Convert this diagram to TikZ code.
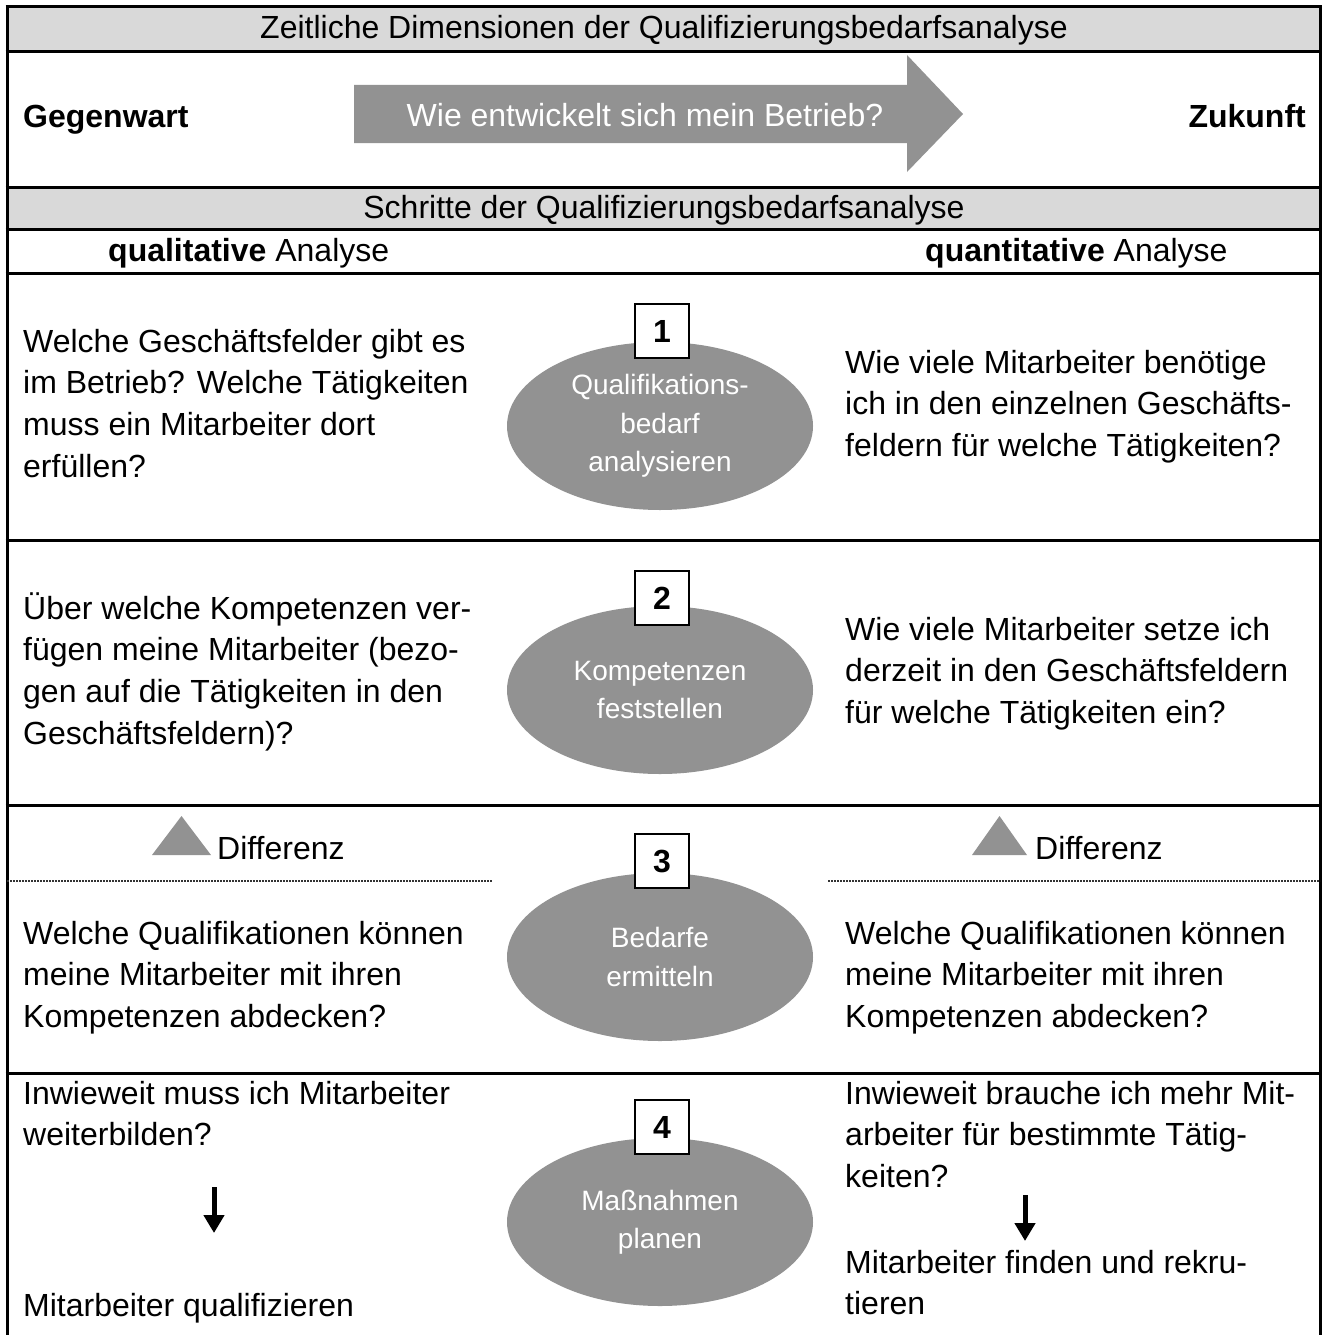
\documentclass[tikz,border=0pt]{standalone}
\usepackage{fontspec}
\setmainfont{Liberation Sans}
\usetikzlibrary{shapes.geometric,arrows.meta}
\definecolor{hdr}{HTML}{D9D9D9}
\definecolor{shp}{HTML}{929292}
\begin{document}
\begin{tikzpicture}[x=1pt,y=-1pt,
  body/.style={font=\fontsize{32}{41.7}\selectfont, inner sep=0pt, anchor=base west, align=left},
  ctr/.style={font=\fontsize{32}{41.7}\selectfont, inner sep=0pt, anchor=base},
  ell/.style={ellipse, fill=shp, minimum width=306pt, minimum height=168pt, inner sep=0pt,
    text=white, align=center, font=\fontsize{28}{38.5}\selectfont},
  numbox/.style={draw, line width=2pt, fill=white, minimum width=54pt, minimum height=54pt,
    inner sep=0pt, font=\fontsize{32}{36}\selectfont\bfseries},
  rule/.style={line width=3pt},
  dotline/.style={line width=1.5pt, dash pattern=on 2pt off 1pt, black!80},
  smallarrow/.style={line width=5pt, -{Triangle[width=20pt,length=18pt]}}]
\useasboundingbox (0,0) rectangle (1322,1335);
% header fills
\fill[hdr] (7,7) rectangle (1320,52);
\fill[hdr] (7,187) rectangle (1320,229);
% rules
\foreach \yy in {7,52,187,229,273,540,805,1073}
  \draw[rule] (5.5,\yy) -- (1321.5,\yy);
\draw[rule] (7,5.5) -- (7,1335);
\draw[rule] (1320,5.5) -- (1320,1335);
% header texts
\node[ctr] (h1) at (664,38.5) {Zeitliche Dimensionen der Qualifizierungsbedarfsanalyse};
\node[body, font=\fontsize{32}{41.7}\selectfont\bfseries] (gw) at (23,128) {Gegenwart};
\node[body, anchor=base east, font=\fontsize{32}{41.7}\selectfont\bfseries] (zk) at (1306,128) {Zukunft};
% big arrow
\fill[shp] (354,85) -- (907,85) -- (907,55) -- (963,114) -- (907,172) -- (907,143) -- (354,143) -- cycle;
\node[ctr, text=white] (arrtxt) at (645,127) {Wie entwickelt sich mein Betrieb?};
\node[ctr] (h2) at (664,218) {Schritte der Qualifizierungsbedarfsanalyse};
\node[body] (ql) at (108,261.5) {\textbf{qualitative} Analyse};
\node[body] (qn) at (925,261.5) {\textbf{quantitative} Analyse};
% row 1 (base anchor of multi-line nodes = last line)
\node[body] (l1) at (23,477.1) {Welche Geschäftsfelder gibt es\\im Betrieb? Welche Tätigkeiten\\muss ein Mitarbeiter dort\\erfüllen?};
\node[body] (r1) at (845,456.4) {Wie viele Mitarbeiter benötige\\ich in den einzelnen Geschäfts-\\feldern für welche Tätigkeiten?};
\node[ell] (e1) at (660,426) {Qualifikations-\\bedarf\\analysieren};
\node[numbox] (n1) at (662,331) {1};
% row 2
\node[body] (l2) at (23,744.1) {Über welche Kompetenzen ver-\\fügen meine Mitarbeiter (bezo-\\gen auf die Tätigkeiten in den\\Geschäftsfeldern)?};
\node[body] (r2) at (845,723.4) {Wie viele Mitarbeiter setze ich\\derzeit in den Geschäftsfeldern\\für welche Tätigkeiten ein?};
\node[ell] (e2) at (660,690) {Kompetenzen\\feststellen};
\node[numbox] (n2) at (662,598) {2};
% row 3
\fill[shp] (152,855) -- (211,855) -- (181.5,816) -- cycle;
\fill[shp] (972,855) -- (1027,855) -- (999.5,816) -- cycle;
\node[body] (d1) at (217,859) {Differenz};
\node[body] (d2) at (1035,859) {Differenz};
\draw[dotline] (7,881) -- (492,881);
\draw[dotline] (828,881) -- (1320,881);
\node[body] (l3) at (23,1027.4) {Welche Qualifikationen können\\meine Mitarbeiter mit ihren\\Kompetenzen abdecken?};
\node[body] (r3) at (845,1027.4) {Welche Qualifikationen können\\meine Mitarbeiter mit ihren\\Kompetenzen abdecken?};
\node[ell] (e3) at (660,957) {Bedarfe\\ermitteln};
\node[numbox] (n3) at (662,861) {3};
% row 4
\node[body] (l4) at (23,1145.7) {Inwieweit muss ich Mitarbeiter\\weiterbilden?};
\node[body] (l4b) at (23,1316) {Mitarbeiter qualifizieren};
\node[body] (r4) at (845,1187.4) {Inwieweit brauche ich mehr Mit-\\arbeiter für bestimmte Tätig-\\keiten?};
\node[body] (r4b) at (845,1314.7) {Mitarbeiter finden und rekru-\\tieren};
\node[ell] (e4) at (660,1222) {Maßnahmen\\planen};
\node[numbox] (n4) at (662,1127) {4};
\coordinate (a1s) at (214,1187);
\coordinate (a1e) at (214,1233);
\coordinate (a2s) at (1025,1195);
\coordinate (a2e) at (1025,1241);
\draw[smallarrow] (a1s) -- (a1e);
\draw[smallarrow] (a2s) -- (a2e);
\end{tikzpicture}
\end{document}
